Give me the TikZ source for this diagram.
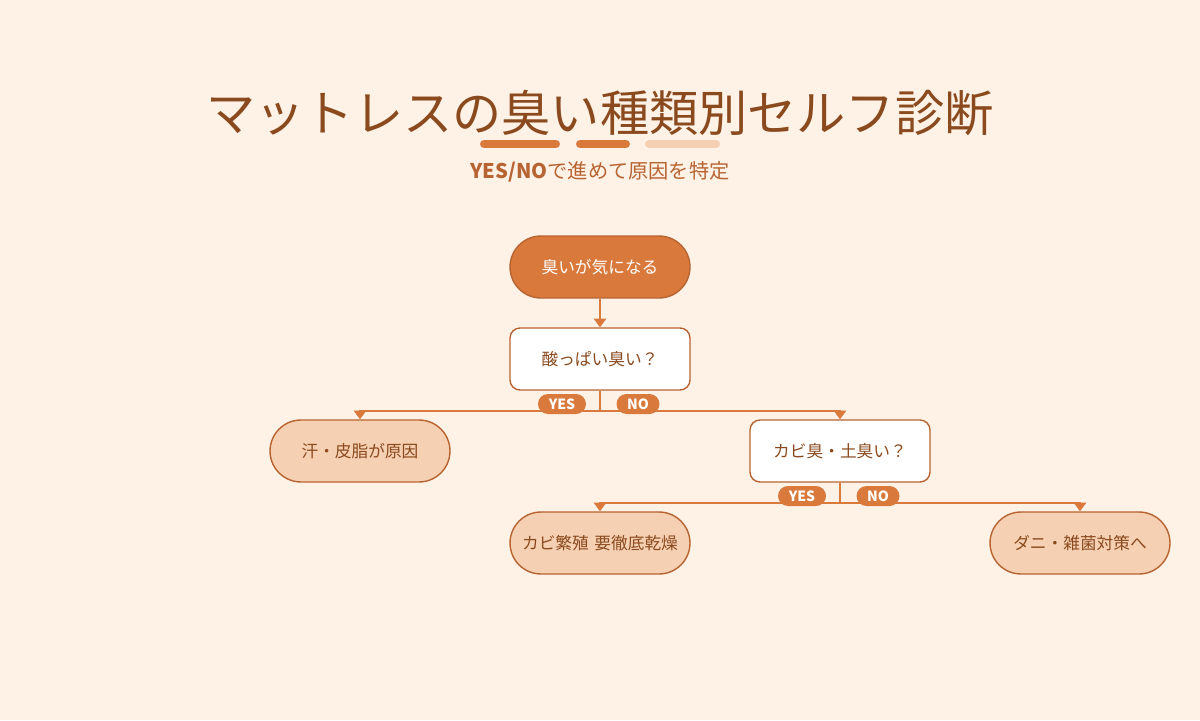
\documentclass[tikz,border=0pt]{standalone}
\usepackage{fontspec}
\setmainfont{Noto Sans CJK JP}
\usetikzlibrary{positioning, arrows.meta}
\definecolor{bgcol}{HTML}{FEF2E6}
\definecolor{brown}{HTML}{8A4A1E}
\definecolor{orange}{HTML}{D97A3C}
\definecolor{edgecol}{HTML}{B86432}
\definecolor{pale}{HTML}{F5D0B2}
\tikzset{
  x=0.02cm, y=-0.02cm,
  >={Triangle[width=7pt,length=5pt]}, % small filled heads
  flow/.style={draw=orange, line width=1.4pt}, % connector lines
  box/.style={draw=edgecol, line width=0.8pt, minimum width=3.6cm, minimum height=1.24cm,
    font=\fontsize{9.5pt}{12pt}\selectfont, text=brown, align=center, text width=3.3cm},
  startbox/.style={box, rounded corners=0.62cm, fill=orange, text=white},
  askbox/.style={box, rounded corners=0.2cm, fill=white},
  endbox/.style={box, rounded corners=0.62cm, fill=pale},
  pill/.style={fill=orange, rounded corners=0.2cm, minimum width=0.96cm, minimum height=0.4cm,
    inner sep=0pt, text=white, font=\bfseries\fontsize{8pt}{8pt}\selectfont},
  bar/.style={line width=0.16cm, line cap=round},
}
\begin{document}
\begin{tikzpicture}
    % background and title
    \fill[bgcol] (0,0) rectangle (1200,720);
    \useasboundingbox (0,0) rectangle (1200,720);
    \node[text=brown, font=\fontsize{28pt}{30pt}\selectfont] (title) at (600,113) {マットレスの臭い種類別セルフ診断};
    \draw[bar, orange] (484,144) -- (556,144);
    \draw[bar, orange] (580,144) -- (626,144);
    \draw[bar, pale] (649,144) -- (716,144);
    \node[text=edgecol, font=\fontsize{11.5pt}{14pt}\selectfont] (sub) at (600,172) {\textbf{YES/NO}で進めて原因を特定};

    % nodes
    \node[startbox] (start) at (600,267) {臭いが気になる};
    \node[askbox] (q1) at (600,359) {酸っぱい臭い？};
    \node[endbox] (sweat) at (360,451) {汗・皮脂が原因};
    \node[askbox] (q2) at (840,451) {カビ臭・土臭い？};
    \node[endbox] (mold) at (600,543) {カビ繁殖 要徹底乾燥};
    \node[endbox] (mite) at (1080,543) {ダニ・雑菌対策へ};

    % connectors
    \coordinate (j1) at (600,411);
    \coordinate (j2) at (840,503);
    \draw[flow, ->] (start) -- (q1);
    \draw[flow] (q1) -- (j1);
    \draw[flow, ->] (j1) -| (sweat);
    \draw[flow, ->] (j1) -| (q2);
    \draw[flow] (q2) -- (j2);
    \draw[flow, ->] (j2) -| (mold);
    \draw[flow, ->] (j2) -| (mite);

    % labels
    \node[pill] (yes1) at (562,404) {YES};
    \node[pill, minimum width=0.86cm] (no1) at (638,404) {NO};
    \node[pill] (yes2) at (802,496) {YES};
    \node[pill, minimum width=0.86cm] (no2) at (878,496) {NO};
\end{tikzpicture}
\end{document}
